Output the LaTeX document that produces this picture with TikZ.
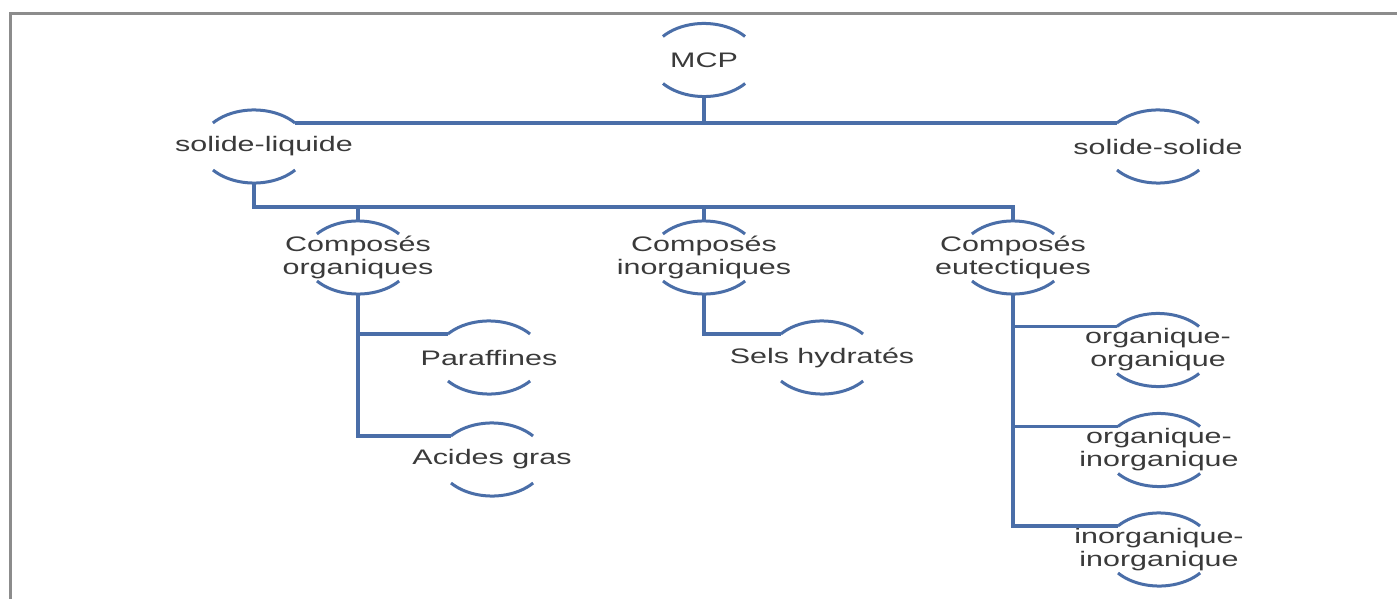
\documentclass[tikz,border=0pt]{standalone}
\usepackage{fontspec}
\newfontfamily\labfont{Liberation Sans}[FakeStretch=1.45]
\usetikzlibrary{calc}
\definecolor{lineblue}{RGB}{74,110,168}
\definecolor{txtgray}{RGB}{58,58,58}
\definecolor{framegray}{RGB}{140,140,140}
\tikzset{
  lab/.style={font=\labfont\fontsize{21}{23}\selectfont, text=txtgray, align=center, inner sep=0pt},
  conn/.style={draw=lineblue, line width=3.5pt},
  arcline/.style={draw=lineblue, line width=3pt},
  framestyle/.style={draw=framegray, line width=3pt},
}
\newcommand{\twinarcs}[1]{%
  \draw[arcline] ([shift={(41,23.5)}]#1.center) arc[start angle=40, end angle=140, x radius=53.6pt, y radius=36.5pt];
  \draw[arcline] ([shift={(-41,-23.5)}]#1.center) arc[start angle=220, end angle=320, x radius=53.6pt, y radius=36.5pt];
  \coordinate (#1T) at ([yshift=36.5pt]#1.center);
  \coordinate (#1B) at ([yshift=-36.5pt]#1.center);
  \coordinate (#1TL) at ([shift={(-41,23.5)}]#1.center);
  \coordinate (#1TR) at ([shift={(41,23.5)}]#1.center);
}
\begin{document}
\begin{tikzpicture}[x=1pt,y=1pt]
\useasboundingbox (0,0) rectangle (1397,-599);
\fill[white] (0,0) rectangle (1397,-599);
% frame
\draw[framestyle] (10,-600) -- (10,-14) -- (1398,-14);

% nodes
\node[lab] (mcp) at (704,-60) {MCP};
\node[lab] (sl) at (254,-146.5) {\hspace*{20pt}solide-liquide};
\node[lab] (ss) at (1158,-146.5) {solide-solide};
\node[lab] (co) at (358,-257.5) {Composés\\organiques};
\node[lab] (ci) at (704,-257.5) {Composés\\inorganiques};
\node[lab] (ce) at (1013,-257.5) {Composés\\eutectiques};
\node[lab] (par) at (489,-357.5) {Paraffines};
\node[lab] (ag) at (492,-459.5) {Acides gras};
\node[lab] (sh) at (822,-357.5) {Sels hydratés};
\node[lab] (oo) at (1158,-350) {organique-\\organique};
\node[lab] (oi) at (1159,-450) {organique-\\inorganique};
\node[lab] (ii) at (1159,-549.5) {inorganique-\\inorganique};

\foreach \n in {mcp,sl,ss,co,ci,ce,par,ag,sh,oo,oi,ii}{\twinarcs{\n}}

% connectors
\draw[conn] (slTR) -- (ssTL);
\draw[conn] (mcpB) -- (mcpB |- slTR);
\coordinate (bar) at ($(slB)+(0,-24)$);
\draw[conn] (slB) -- (bar) -| (ceT);
\draw[conn] (coT) -- (coT |- bar);
\draw[conn] (ciT) -- (ciT |- bar);
\draw[conn] (coB) |- (agTL);
\draw[conn] (parTL) -- (parTL -| coB);
\draw[conn] (ciB) |- (shTL);
\draw[conn] (ceB) |- (iiTL);
\draw[conn] (ooTL) -- (ooTL -| ceB);
\draw[conn] (oiTL) -- (oiTL -| ceB);
\end{tikzpicture}
\end{document}
